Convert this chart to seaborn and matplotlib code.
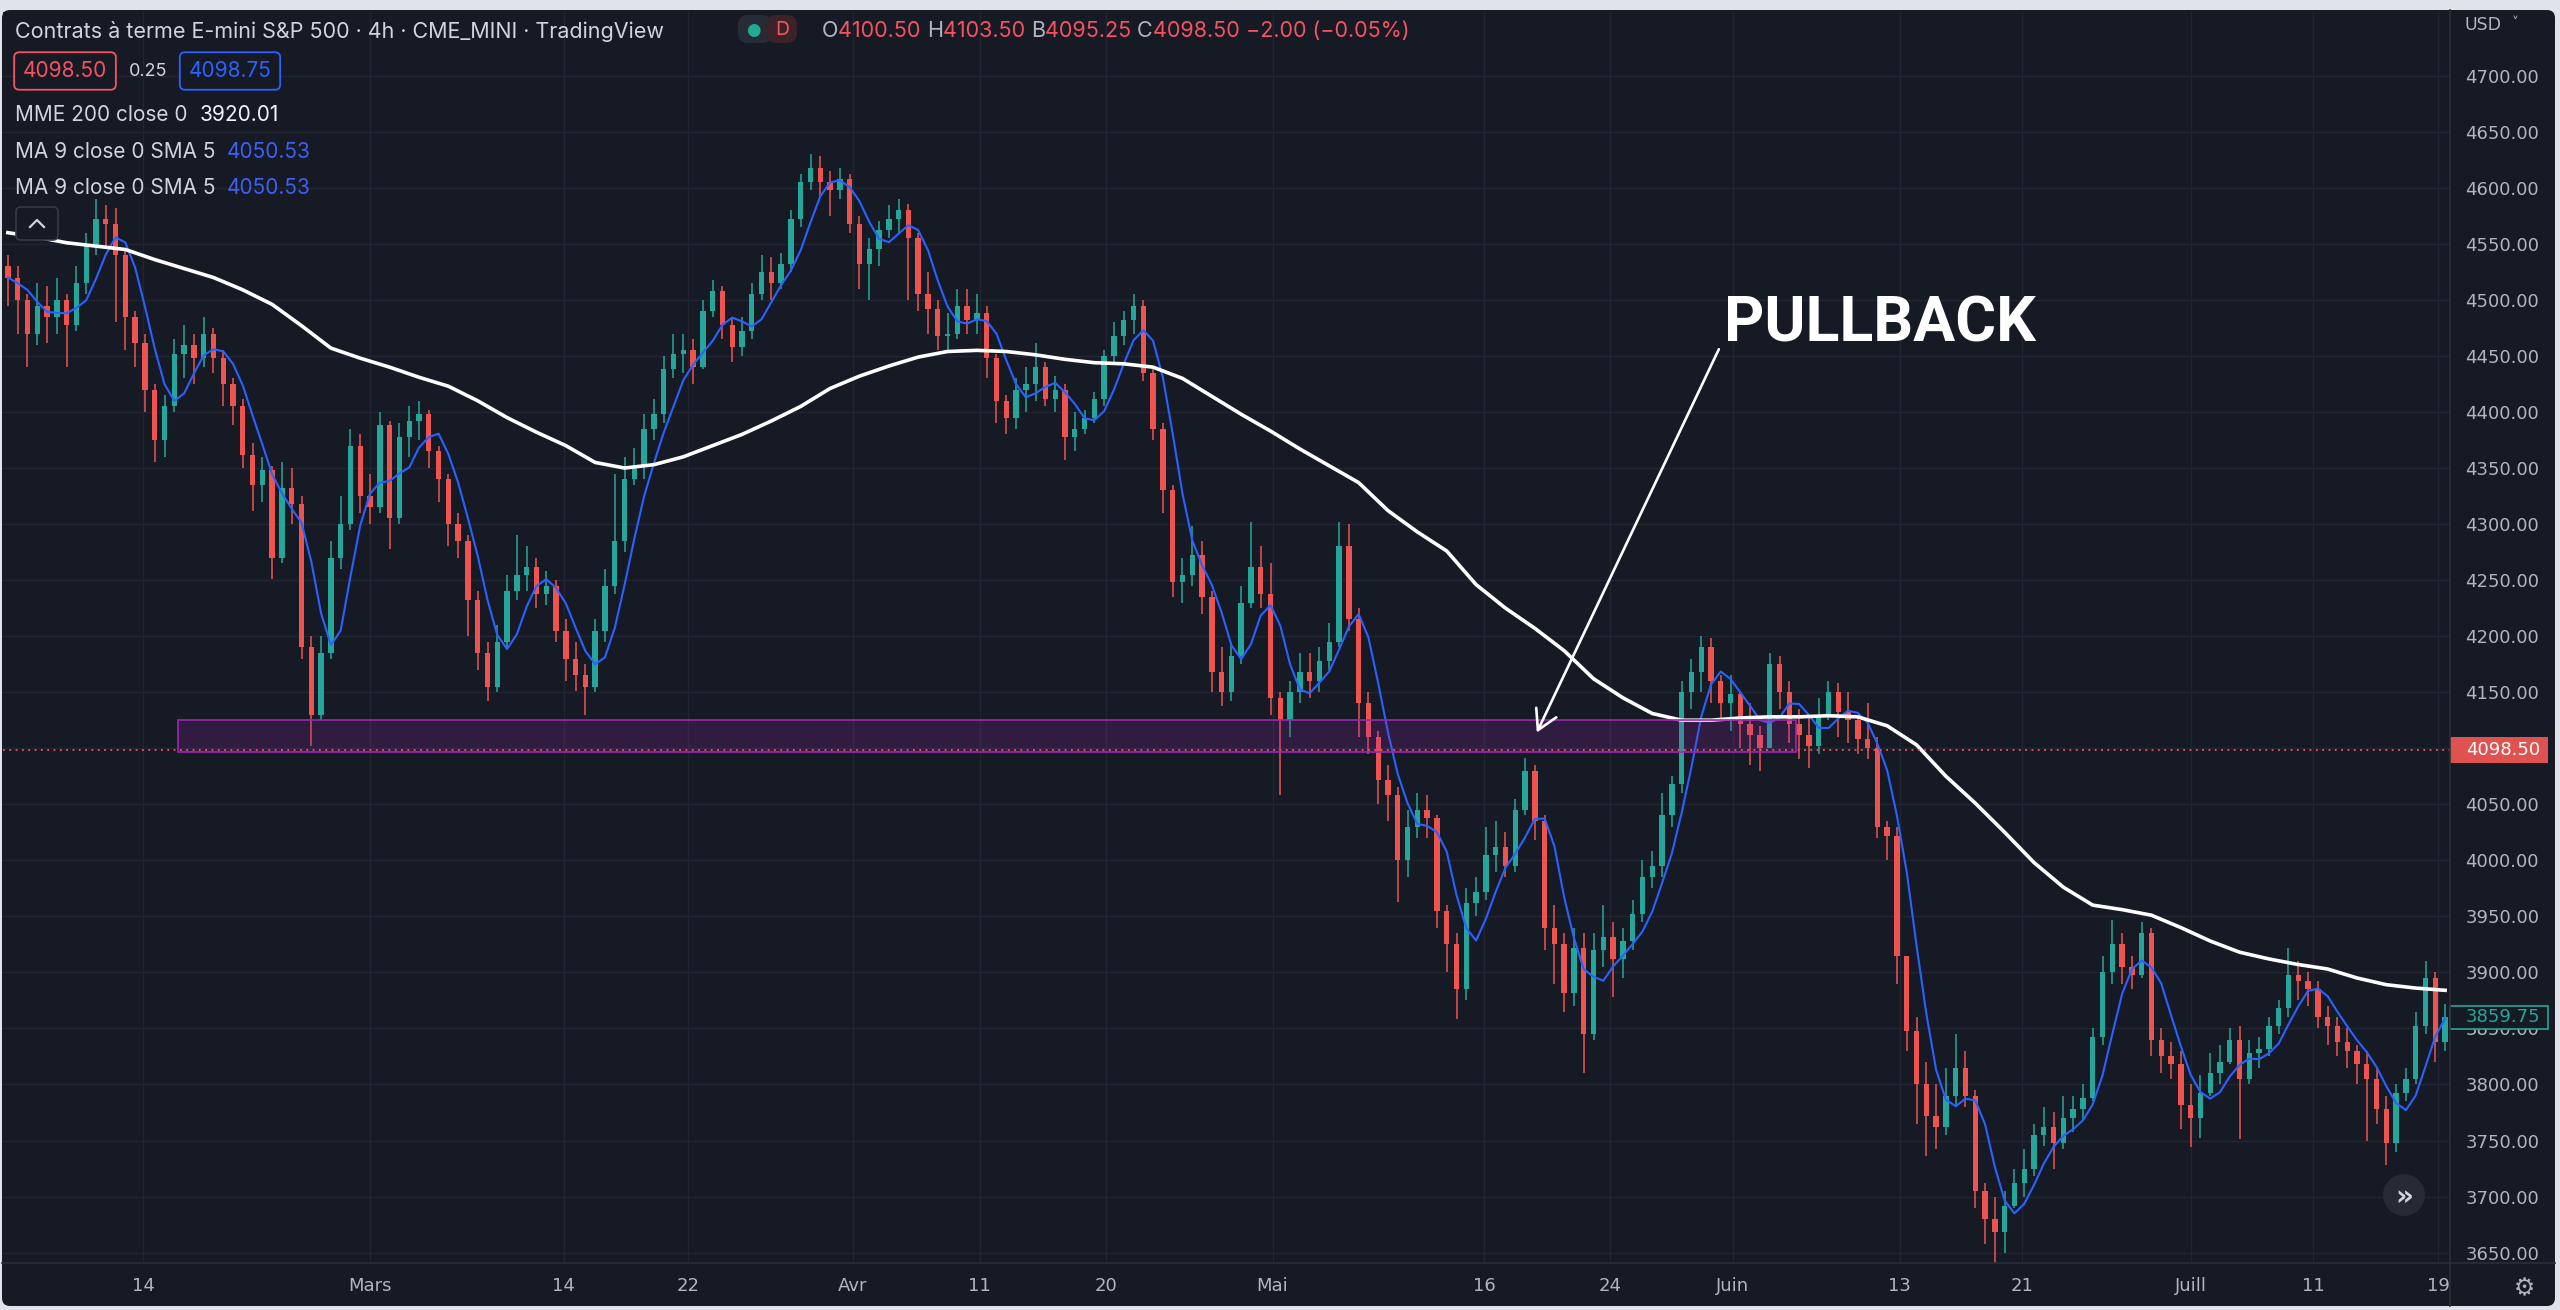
import numpy as np
import pandas as pd
import matplotlib
matplotlib.use("Agg")
import matplotlib.pyplot as plt
from matplotlib.patches import FancyBboxPatch, Rectangle, Circle
from matplotlib.lines import Line2D
import seaborn as sns

# E-mini S&P 500 (one candle here ~ three 4h bars), Feb -> Jul 19
closes = [
    4520, 4500, 4470, 4495, 4485, 4500, 4478, 4515, 4548, 4572,
    4568, 4540, 4485, 4462, 4420, 4375, 4405, 4452, 4460, 4448,
    4470, 4448, 4425, 4405, 4362, 4335, 4348, 4270, 4332, 4318,
    4190, 4130, 4185, 4270, 4300, 4370, 4325, 4315, 4388, 4305,
    4378, 4392, 4398, 4365, 4340, 4300, 4285, 4232, 4185, 4155,
    4195, 4240, 4255, 4262, 4238, 4245, 4205, 4180, 4165, 4155,
    4205, 4245, 4285, 4340, 4352, 4385, 4398, 4438, 4452, 4455,
    4440, 4490, 4508, 4478, 4458, 4472, 4505, 4525, 4515, 4532,
    4572, 4605, 4618, 4605, 4598, 4608, 4568, 4532, 4545, 4562,
    4572, 4580, 4555, 4505, 4492, 4468, 4470, 4495, 4482, 4488,
    4448, 4410, 4395, 4420, 4425, 4440, 4412, 4420, 4378, 4385,
    4395, 4412, 4450, 4468, 4482, 4495, 4435, 4385, 4330, 4248,
    4255, 4272, 4235, 4168, 4150, 4182, 4230, 4262, 4238, 4145,
    4125, 4150, 4168, 4160, 4178, 4195, 4280, 4215, 4140, 4110,
    4072, 4058, 4000, 4030, 4045, 4038, 3955, 3925, 3885, 3962,
    3972, 4005, 4012, 3995, 4045, 4080, 4035, 3940, 3925, 3882,
    3922, 3845, 3920, 3932, 3912, 3928, 3952, 3985, 3995, 4040,
    4068, 4150, 4168, 4190, 4160, 4140, 4148, 4122, 4112, 4100,
    4175, 4150, 4122, 4112, 4102, 4130, 4150, 4132, 4125, 4108,
    4100, 4030, 4022, 3915, 3848, 3800, 3772, 3762, 3790, 3815,
    3790, 3705, 3680, 3668, 3692, 3712, 3725, 3755, 3762, 3748,
    3770, 3778, 3788, 3842, 3900, 3925, 3905, 3898, 3935, 3840,
    3825, 3818, 3782, 3770, 3792, 3810, 3820, 3840, 3805, 3828,
    3832, 3852, 3868, 3898, 3892, 3885, 3860, 3852, 3838, 3830,
    3818, 3805, 3778, 3748, 3792, 3805, 3852, 3895, 3838, 3860,
]
highs = [
    4540, 4530, 4505, 4515, 4512, 4520, 4505, 4530, 4560, 4590,
    4585, 4582, 4545, 4490, 4470, 4425, 4415, 4465, 4478, 4470,
    4485, 4475, 4455, 4430, 4412, 4372, 4360, 4352, 4355, 4350,
    4325, 4200, 4200, 4285, 4325, 4385, 4380, 4345, 4400, 4392,
    4390, 4405, 4410, 4402, 4370, 4345, 4310, 4290, 4240, 4195,
    4210, 4255, 4290, 4280, 4270, 4258, 4250, 4215, 4195, 4175,
    4215, 4260, 4345, 4360, 4368, 4398, 4412, 4450, 4470, 4470,
    4465, 4500, 4518, 4512, 4485, 4485, 4515, 4540, 4538, 4542,
    4580, 4612, 4630, 4628, 4615, 4618, 4612, 4575, 4555, 4570,
    4585, 4590, 4586, 4560, 4525, 4500, 4488, 4510, 4510, 4505,
    4495, 4452, 4415, 4430, 4440, 4462, 4445, 4432, 4425, 4400,
    4402, 4418, 4455, 4480, 4490, 4505, 4500, 4440, 4390, 4335,
    4270, 4298, 4285, 4240, 4190, 4195, 4245, 4302, 4280, 4265,
    4150, 4160, 4185, 4185, 4190, 4212, 4302, 4300, 4225, 4150,
    4115, 4085, 4065, 4045, 4060, 4058, 4040, 3960, 3935, 3975,
    3985, 4030, 4035, 4025, 4055, 4091, 4085, 4040, 3960, 3935,
    3940, 3935, 3935, 3960, 3945, 3940, 3965, 4000, 4008, 4060,
    4075, 4160, 4180, 4200, 4198, 4165, 4165, 4150, 4140, 4120,
    4185, 4182, 4160, 4135, 4130, 4145, 4160, 4158, 4150, 4128,
    4140, 4110, 4035, 4030, 3915, 3860, 3820, 3800, 3815, 3845,
    3830, 3795, 3712, 3700, 3705, 3725, 3742, 3765, 3780, 3775,
    3790, 3790, 3800, 3850, 3915, 3947, 3935, 3915, 3945, 3940,
    3850, 3838, 3830, 3800, 3808, 3828, 3835, 3850, 3852, 3840,
    3842, 3860, 3875, 3922, 3910, 3900, 3892, 3870, 3860, 3850,
    3835, 3830, 3815, 3790, 3800, 3815, 3865, 3910, 3900, 3872,
]
lows = [
    4495, 4470, 4440, 4460, 4462, 4470, 4440, 4472, 4505, 4540,
    4548, 4480, 4455, 4440, 4400, 4355, 4360, 4400, 4430, 4425,
    4440, 4435, 4405, 4388, 4350, 4312, 4320, 4251, 4265, 4300,
    4180, 4102, 4125, 4180, 4260, 4295, 4310, 4300, 4310, 4278,
    4300, 4360, 4375, 4350, 4320, 4280, 4270, 4200, 4170, 4142,
    4150, 4190, 4232, 4240, 4225, 4228, 4195, 4160, 4151, 4130,
    4150, 4195, 4238, 4275, 4335, 4340, 4375, 4390, 4430, 4435,
    4425, 4438, 4485, 4465, 4445, 4450, 4465, 4500, 4500, 4510,
    4525, 4565, 4598, 4592, 4575, 4590, 4560, 4510, 4500, 4530,
    4555, 4560, 4500, 4490, 4470, 4455, 4455, 4465, 4470, 4470,
    4430, 4390, 4380, 4385, 4400, 4410, 4405, 4400, 4357, 4365,
    4380, 4390, 4405, 4445, 4460, 4470, 4428, 4375, 4310, 4235,
    4230, 4245, 4220, 4150, 4138, 4142, 4175, 4225, 4225, 4130,
    4058, 4110, 4140, 4145, 4150, 4170, 4190, 4205, 4110, 4095,
    4050, 4035, 3963, 3985, 4020, 4020, 3940, 3900, 3858, 3875,
    3950, 3965, 3990, 3985, 3990, 4040, 4018, 3920, 3890, 3865,
    3870, 3810, 3840, 3905, 3878, 3895, 3920, 3945, 3975, 3985,
    4030, 4060, 4135, 4150, 4140, 4125, 4115, 4100, 4085, 4080,
    4100, 4135, 4105, 4090, 4082, 4095, 4125, 4110, 4105, 4095,
    4090, 4020, 4000, 3890, 3830, 3765, 3736, 3742, 3755, 3780,
    3780, 3690, 3658, 3641, 3650, 3690, 3700, 3718, 3745, 3725,
    3742, 3758, 3768, 3785, 3835, 3890, 3890, 3885, 3895, 3825,
    3810, 3805, 3760, 3744, 3752, 3790, 3800, 3818, 3751, 3800,
    3815, 3825, 3845, 3860, 3875, 3870, 3850, 3835, 3825, 3815,
    3800, 3750, 3765, 3728, 3740, 3785, 3800, 3845, 3820, 3830,
]
first_open = 4530

# MME 200, one value every 3 candles (last one = last candle)
ema200 = [
    4560, 4556, 4551, 4548, 4545, 4536, 4528, 4520, 4509, 4496,
    4477, 4457, 4448, 4440, 4431, 4423, 4410, 4395, 4382, 4370,
    4355, 4350, 4353, 4360, 4370, 4380, 4392, 4405, 4421, 4432,
    4441, 4449, 4454, 4455, 4454, 4451, 4447, 4444, 4443, 4440,
    4430, 4414, 4398, 4383, 4367, 4352, 4337, 4312, 4293, 4276,
    4246, 4225, 4207, 4187, 4162, 4145, 4131, 4125, 4125, 4127,
    4128, 4128, 4129, 4128, 4120, 4103, 4075, 4051, 4025, 3998,
    3976, 3960, 3956, 3951, 3940, 3928, 3918, 3912, 3907, 3903,
    3895, 3889, 3886, 3884,
]
ema_step = 3

price_ticks = [3650, 3700, 3750, 3800, 3850, 3900, 3950, 4000, 4050, 4100, 4150,
               4200, 4250, 4300, 4350, 4400, 4450, 4500, 4550, 4600, 4650, 4700]
date_labels = ["14", "Mars", "14", "22", "Avr", "11", "20", "Mai",
               "16", "24", "Juin", "13", "21", "Juill", "11", "19"]
date_pos = [13.8, 37.0, 56.8, 69.5, 86.3, 99.3, 112.2, 129.2,
            150.8, 163.7, 176.2, 193.3, 205.8, 223.0, 235.5, 248.3]

zone_low, zone_high = 4096.3, 4125.5
zone_start, zone_end = 17.4, 182.7
last_price = 4098.50
last_close = 3859.75
pullback_text = (191.3, 4478)
arrow_from, arrow_to = (174.8, 4456), (156.2, 4114)

# colours
BG = "#161a25"
GRID = "#222531"
SEP = "#2a2e39"
UP = "#26a69a"
DOWN = "#ef5350"
RED = "#f7525f"
BLUE = "#2962ff"
TXT = "#b2b5be"
LIGHT = "#d1d4dc"

W, H = 2560, 1310


def fx(x):
    return x / W


def fy(y):
    return 1 - y / H


fig = plt.figure(figsize=(W / 100, H / 100), dpi=100)
fig.patch.set_facecolor("#e1e3ea")
fig.patches.append(FancyBboxPatch((0.02, 0.04), 25.53, 12.96,
                                  boxstyle="round,pad=0,rounding_size=0.08",
                                  transform=fig.dpi_scale_trans, fc=BG, ec="none", zorder=-5))

ax = fig.add_axes([fx(3), (H - 1263) / H, (2450 - 3) / W, (1263 - 12) / H])
ax.set_facecolor(BG)
for s in ax.spines.values():
    s.set_visible(False)

# candles
df = pd.DataFrame({"close": closes, "high": highs, "low": lows})
df["open"] = [first_open] + closes[:-1]
df["high"] = df[["high", "open", "close"]].max(axis=1)
df["low"] = df[["low", "open", "close"]].min(axis=1)
df["idx"] = np.arange(len(df))
col = np.where(df["close"] >= df["open"], UP, DOWN)
ax.vlines(df["idx"], df["low"], df["high"], colors=col, linewidth=1.1, zorder=3)
body_lo = df[["open", "close"]].min(axis=1)
body_h = (df["close"] - df["open"]).abs().clip(lower=1.5)
ax.bar(df["idx"], body_h, bottom=body_lo, width=0.55, color=col, linewidth=0, zorder=3)

# MA 9 (blue, smoothed) from closes, MME 200 (white)
df["sma"] = df["close"].rolling(3, min_periods=1).mean().rolling(3, min_periods=1).mean()
sns.lineplot(data=df, x="idx", y="sma", color=BLUE, linewidth=1.5, ax=ax, zorder=4)
ema_x = list(range(0, len(closes), ema_step))
sns.lineplot(x=ema_x, y=ema200, color="white", linewidth=2.6, ax=ax, zorder=5)

# pullback zone + current price line
ax.add_patch(Rectangle((zone_start, zone_low), zone_end - zone_start, zone_high - zone_low,
                       fc="#9c27b0", alpha=0.2, ec="none", zorder=6))
ax.add_patch(Rectangle((zone_start, zone_low), zone_end - zone_start, zone_high - zone_low,
                       fc="none", ec="#9c27b0", lw=1.2, zorder=6))
ax.axhline(last_price, color=RED, lw=1.3, ls=(0, (1, 2.5)), zorder=6)

ax.text(*pullback_text, "PULLBACK", color="white", fontsize=45, fontweight="bold",
        family="Roboto", ha="center", va="center", zorder=8)
ax.annotate("", xy=arrow_to, xytext=arrow_from,
            arrowprops=dict(arrowstyle="->,head_length=0.7,head_width=0.4", color="white",
                            lw=1.9, mutation_scale=20, shrinkA=0, shrinkB=0), zorder=8)

ax.set_xlim(-0.5, len(closes) - 0.5)
ax.set_ylim(3640.7, 4756.9)
ax.set_xlabel("")
ax.set_ylabel("")
ax.set_yticks(price_ticks)
ax.set_yticklabels([f"{v:.2f}" for v in price_ticks])
ax.yaxis.tick_right()
ax.set_xticks(date_pos)
ax.set_xticklabels(date_labels)
ax.tick_params(axis="y", length=0, pad=11, labelsize=13, labelcolor=TXT)
ax.tick_params(axis="x", length=0, pad=10, labelsize=13, labelcolor=TXT)
ax.grid(True, color=GRID, lw=1)
ax.set_axisbelow(True)

# price labels on the scale
ytr = ax.get_yaxis_transform()
bw = 98 / 2447
ax.add_patch(Rectangle((1.0, last_price - 11.6), bw, 23.2, transform=ytr, clip_on=False,
                       fc="#e0524f", ec="none", zorder=9))
ax.text(1.0 + 16 / 2447, last_price, f"{last_price:.2f}", transform=ytr, color="white",
        fontsize=13, va="center", ha="left", zorder=10, clip_on=False)
ax.add_patch(Rectangle((1.0, last_close - 10.7), bw, 21.4, transform=ytr, clip_on=False,
                       fc=BG, ec=UP, lw=1.2, zorder=9))
ax.text(1.0 + 16 / 2447, last_close, f"{last_close:.2f}", transform=ytr, color=UP,
        fontsize=13, va="center", ha="left", zorder=10, clip_on=False)

# panel separators
fig.lines.append(Line2D([fx(2450), fx(2450)], [fy(10), fy(1306)], color=SEP, lw=1.2,
                        transform=fig.transFigure, zorder=5))
fig.lines.append(Line2D([fx(2), fx(2555)], [fy(1263), fy(1263)], color=SEP, lw=1.2,
                        transform=fig.transFigure, zorder=5))

fig.text(fx(2465), fy(25), "USD", color=TXT, fontsize=12.5, va="center")
fig.text(fx(2512), fy(23), "˅", color=TXT, fontsize=10, va="center")
fig.text(fx(2524), fy(1288), "⚙", color=TXT, fontsize=17, ha="center", va="center")
fig.patches.append(Circle((24.04, (H - 1195) / 100), 0.21, transform=fig.dpi_scale_trans,
                          fc="#262a35", ec="none", zorder=6))
fig.text(fx(2404), fy(1197), "»", color=LIGHT, fontsize=20, ha="center", va="center",
         fontweight="bold", zorder=8)


# legend block, top left
def chain(x, y, parts, size=15):
    t = fig.text(fx(x), fy(y), parts[0][0], color=parts[0][1], fontsize=size,
                 family="Inter", va="center", ha="left")
    for s, c in parts[1:]:
        t = ax.annotate(s, xy=(1, 0.5), xycoords=t, color=c, fontsize=size,
                        family="Inter", va="center", ha="left", zorder=10)
    return t


chain(15, 31, [("Contrats à terme E-mini S&P 500 · 4h · CME_MINI · TradingView", LIGHT)], size=15.5)
fig.patches.append(FancyBboxPatch((7.38, (H - 43) / 100), 0.34, 0.28,
                                  boxstyle="round,pad=0,rounding_size=0.1",
                                  transform=fig.dpi_scale_trans, fc="#262c35", ec="none", zorder=6))
fig.patches.append(FancyBboxPatch((7.66, (H - 43) / 100), 0.31, 0.28,
                                  boxstyle="round,pad=0,rounding_size=0.1",
                                  transform=fig.dpi_scale_trans, fc="#3a2228", ec="none", zorder=6))
fig.text(fx(753), fy(30), "●", color="#22ab94", fontsize=12, ha="center", va="center", zorder=8)
fig.text(fx(782), fy(30), "D", color=RED, fontsize=14, ha="center", va="center", family="Inter",
         zorder=8)
chain(822, 31, [("O", TXT), ("4100.50 ", RED), ("H", TXT), ("4103.50 ", RED),
                ("B", TXT), ("4095.25 ", RED), ("C", TXT), ("4098.50 ", RED),
                ("−2.00 (−0.05%)", RED)], size=15.5)

fig.text(fx(65), fy(71), "4098.50", color=RED, fontsize=15, family="Inter", ha="center",
         va="center", bbox=dict(boxstyle="round,pad=0.42,rounding_size=0.25", fc=BG, ec=RED, lw=1.3))
fig.text(fx(148), fy(71), "0.25", color=LIGHT, fontsize=13, family="Inter", ha="center", va="center")
fig.text(fx(230), fy(71), "4098.75", color=BLUE, fontsize=15, family="Inter", ha="center",
         va="center", bbox=dict(boxstyle="round,pad=0.42,rounding_size=0.25", fc=BG, ec=BLUE, lw=1.3))

chain(15, 115, [("MME 200 close 0  ", LIGHT), ("3920.01", "#f0f3fa")])
chain(15, 152, [("MA 9 close 0 SMA 5  ", LIGHT), ("4050.53", "#3f5ff5")])
chain(15, 188, [("MA 9 close 0 SMA 5  ", LIGHT), ("4050.53", "#3f5ff5")])

fig.patches.append(FancyBboxPatch((0.16, (H - 240) / 100), 0.42, 0.33,
                                  boxstyle="round,pad=0,rounding_size=0.05",
                                  transform=fig.dpi_scale_trans, fc=BG, ec="#363a45", lw=1.2, zorder=6))
fig.lines.append(Line2D([fx(30), fx(37), fx(44)], [fy(227), fy(220), fy(227)], color=LIGHT,
                        lw=1.6, transform=fig.transFigure, zorder=7))

fig.savefig("out.png", dpi=100, facecolor=fig.get_facecolor())
